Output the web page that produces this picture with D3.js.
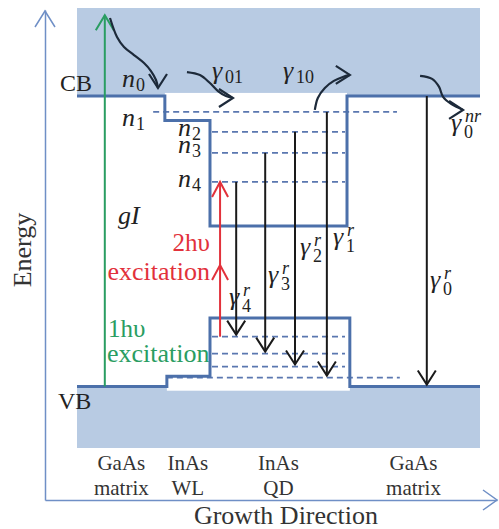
<!DOCTYPE html>
<html>
<head>
<meta charset="utf-8">
<script src="https://cdn.jsdelivr.net/npm/d3@7"></script>
<style>
  body { margin: 0; background: #fff; }
  text { font-family: "Liberation Serif", "Times New Roman", serif; }
</style>
</head>
<body>
<div id="chart"></div>
<script>
// band diagram values: position along growth direction (0-100), energy in eV (VB of GaAs = 0)
var regionBounds = [0, 22, 33, 67, 100];
var regionNames  = [["GaAs", "matrix"], ["InAs", "WL"], ["InAs", "QD"], ["GaAs", "matrix"]];

var cbEdge = [[0, 1.42], [21.8, 1.42], [21.8, 1.30], [33, 1.30], [33, 0.785], [67, 0.785], [67, 1.42], [100, 1.42]];
var vbEdge = [[0, 0], [22.3, 0], [22.3, 0.05], [33, 0.05], [33, 0.335], [67.7, 0.335], [67.7, 0], [100, 0]];

var elecNames  = ["1", "2", "3", "4"];
var elecLevels = [1.342, 1.245, 1.142, 1.0];
var elecFrom   = [18.9, 33.5, 33.5, 33.5];
var elecTo     = [79.4, 66.5, 66.5, 66.5];

var holeLevels = [0.244, 0.161, 0.098, 0.044];
var holeFrom   = [33.5, 33.5, 33.5, 22.3];
var holeTo     = [66.5, 66.5, 66.5, 80.1];

// radiative transitions n4->h1, n3->h2, n2->h3, n1->h4, and GaAs band-to-band
var radNames = ["4", "3", "2", "1", "0"];
var radX     = [39.5, 46.7, 54.1, 62.0, 86.8];
var radTop   = [1.0, 1.142, 1.245, 1.342, 1.42];
var radBot   = [0.254, 0.171, 0.108, 0.054, 0.01];

var gI  = { x: 6.9, from: 0, to: 1.815 };
var twoPhoton = { x: 35.5, from: 0.244, mid: 0.594, to: 1.0 };

var width = 499, height = 529;

var svg = d3.select("#chart").append("svg")
            .attr("width", width)
            .attr("height", height);

var x = d3.scaleLinear().domain([0, 100]).range([77, 480]);
var y = d3.scaleLinear().domain([-0.3, 1.85]).range([448, 8]);

var blue = "#4c70aa", shade = "#b8cbe3", dash = "#5a77b0";

// shaded bands
svg.append("rect").attr("x", x(0)).attr("y", y(1.85))
   .attr("width", x(100) - x(0)).attr("height", y(1.42) - y(1.85))
   .style("fill", shade);
svg.append("rect").attr("x", x(0)).attr("y", y(0))
   .attr("width", x(100) - x(0)).attr("height", y(-0.3) - y(0))
   .style("fill", shade);
// little white gaps in front of the QD
svg.append("rect").attr("x", x(21.8)).attr("y", y(1.435))
   .attr("width", x(67) - x(21.8)).attr("height", y(1.40) - y(1.435))
   .style("fill", "#fff");
svg.append("rect").attr("x", x(22.3)).attr("y", y(0.01))
   .attr("width", x(67.7) - x(22.3)).attr("height", y(-0.02) - y(0.01))
   .style("fill", "#fff");

// axes (no ticks, just the lines with open arrows)
var axX = d3.scaleLinear().domain([0, 1]).range([45, 497]);
var axY = d3.scaleLinear().domain([0, 1]).range([500, 10]);
svg.append("g").attr("transform", "translate(0,500)")
   .call(d3.axisBottom(axX).tickValues([]).tickSizeOuter(0))
   .select(".domain").style("stroke", "#6f8fc6").style("stroke-width", 1.5);
svg.append("g").attr("transform", "translate(45,0)")
   .call(d3.axisLeft(axY).tickValues([]).tickSizeOuter(0))
   .select(".domain").style("stroke", "#6f8fc6").style("stroke-width", 1.5);

var poly = d3.line();

function head(px, py, dir, hw, len, color, sw) {
  var pts;
  if (dir == "up")    pts = [[px - hw, py + len], [px, py], [px + hw, py + len]];
  if (dir == "down")  pts = [[px - hw, py - len], [px, py], [px + hw, py - len]];
  if (dir == "right") pts = [[px - len, py - hw], [px, py], [px - len, py + hw]];
  svg.append("path").attr("d", poly(pts))
     .style("fill", "none").style("stroke", color).style("stroke-width", sw)
     .style("stroke-linejoin", "miter");
}

head(45, 11, "up", 10, 16, "#6f8fc6", 1.5);
head(497, 500, "right", 10, 14, "#6f8fc6", 1.5);

// dashed confined levels
svg.selectAll(".elev").data(elecLevels).enter().append("line")
   .attr("class", "elev")
   .attr("x1", function(d, i) { return x(elecFrom[i]); })
   .attr("x2", function(d, i) { return x(elecTo[i]); })
   .attr("y1", function(d) { return y(d); })
   .attr("y2", function(d) { return y(d); })
   .style("stroke", dash).style("stroke-width", 1.8).style("stroke-dasharray", "6,4");
svg.selectAll(".hlev").data(holeLevels).enter().append("line")
   .attr("class", "hlev")
   .attr("x1", function(d, i) { return x(holeFrom[i]); })
   .attr("x2", function(d, i) { return x(holeTo[i]); })
   .attr("y1", function(d) { return y(d); })
   .attr("y2", function(d) { return y(d); })
   .style("stroke", dash).style("stroke-width", 1.8).style("stroke-dasharray", "6,4");

// band edges
var edgeLine = d3.line().x(function(d) { return x(d[0]); }).y(function(d) { return y(d[1]); });
[cbEdge, vbEdge].forEach(function(e) {
  svg.append("path").attr("d", edgeLine(e))
     .style("fill", "none").style("stroke", blue).style("stroke-width", 3);
});

// 1 photon excitation (green)
svg.append("line").attr("x1", x(gI.x)).attr("x2", x(gI.x))
   .attr("y1", y(gI.from)).attr("y2", y(gI.to))
   .style("stroke", "#2a9d62").style("stroke-width", 2);
head(x(gI.x), y(gI.to), "up", 9, 15, "#2a9d62", 2);

// 2 photon excitation (red)
svg.append("line").attr("x1", x(twoPhoton.x)).attr("x2", x(twoPhoton.x))
   .attr("y1", y(twoPhoton.from)).attr("y2", y(twoPhoton.to))
   .style("stroke", "#e2313b").style("stroke-width", 2);
head(x(twoPhoton.x), y(twoPhoton.to), "up", 8, 15, "#e2313b", 2);
head(x(twoPhoton.x), y(twoPhoton.mid), "up", 8, 15, "#e2313b", 2);

// radiative recombination arrows
svg.selectAll(".rad").data(radX).enter().append("line")
   .attr("class", "rad")
   .attr("x1", function(d) { return x(d); })
   .attr("x2", function(d) { return x(d); })
   .attr("y1", function(d, i) { return y(radTop[i]); })
   .attr("y2", function(d, i) { return y(radBot[i]); })
   .style("stroke", "#1a1a1a").style("stroke-width", 2);
radX.forEach(function(d, i) {
  head(x(d), y(radBot[i]), "down", 9, 14, "#1a1a1a", 2);
});

// curly relaxation / escape arrows (tip in data units, shape in px offsets)
var curls = [
  { tip: [20.1, 1.459], pts: [[-48,-70],[-41,-51],[-34,-41],[-24,-33],[-14,-25],[-7,-17],[-2,-8],[0,0]], dir: "down" },
  { tip: [38.7, 1.41],  pts: [[-46,-26],[-33,-23],[-23,-15],[-15,-7],[-7,-2],[0,0]], dir: "right" },
  { tip: [67.7, 1.523], pts: [[-35,35],[-32,23],[-25,13],[-16,6],[-7,2],[0,0]], dir: "right" },
  { tip: [95.8, 1.352], pts: [[-43,-34],[-31,-31],[-24,-23],[-20,-13],[-12,-6],[0,0]], dir: "right" }
];
var curve = d3.line().curve(d3.curveCatmullRom);
curls.forEach(function(c) {
  var tx = x(c.tip[0]), ty = y(c.tip[1]);
  svg.append("path").attr("d", curve(c.pts.map(function(p) { return [tx + p[0], ty + p[1]]; })))
     .style("fill", "none").style("stroke", "#1d2a3a").style("stroke-width", 2.2);
  head(tx, ty, c.dir, 9, 14, "#1d2a3a", 2.2);
});

// plain labels
function label(t, px, py, size, color, anchor) {
  return svg.append("text").text(t).attr("x", px).attr("y", py)
            .attr("font-size", size).attr("fill", color || "#222")
            .attr("text-anchor", anchor || "start");
}
label("CB", 60, 91, 24);
label("VB", 58, 409, 24);
svg.append("text").text("Energy")
   .attr("transform", "translate(31,250) rotate(-90)")
   .attr("text-anchor", "middle").attr("font-size", 26).attr("fill", "#333");
label("Growth Direction", 286, 524, 26, "#333", "middle");

regionNames.forEach(function(r, i) {
  var cx = x((regionBounds[i] + regionBounds[i + 1]) / 2);
  label(r[0], cx, 470, 21, "#333", "middle");
  label(r[1], cx, 495, 21, "#333", "middle");
});

label("2hυ", 210, 251, 25, "#e2313b", "end");
label("excitation", 210, 280, 26, "#e2313b", "end");
label("1hυ", 108, 337, 25, "#2a9d62");
label("excitation", 107, 362, 26, "#2a9d62");

// math symbols with sub / superscripts
function sym(base, sub, sup, px, py) {
  var g = svg.append("g").attr("font-style", "italic").attr("fill", "#222");
  g.append("text").text(base).attr("x", px).attr("y", py).attr("font-size", 26);
  var w = base == "n" ? 14 : 13;
  if (sub) g.append("text").text(sub).attr("x", px + w).attr("y", py + (sup ? 7 : 4))
            .attr("font-size", 18).attr("font-style", "normal");
  if (sup) g.append("text").text(sup).attr("x", px + w + 1).attr("y", py - 9)
            .attr("font-size", 18);
}
sym("n", "0", null, 122, 87);
sym("n", elecNames[0], null, 122, 126);
sym("n", elecNames[1], null, 178, 136);
sym("n", elecNames[2], null, 178, 153);
sym("n", elecNames[3], null, 178, 187);
sym("γ", "01", null, 212, 79);
sym("γ", "10", null, 283, 79);
sym("γ", "0", "nr", 451, 131);
sym("gI", null, null, 118, 224);

var radLabelPos = [[229, 305], [268, 283], [300, 255], [333, 245], [430, 288]];
radNames.forEach(function(n, i) {
  sym("γ", n, "r", radLabelPos[i][0], radLabelPos[i][1]);
});
</script>
</body>
</html>
